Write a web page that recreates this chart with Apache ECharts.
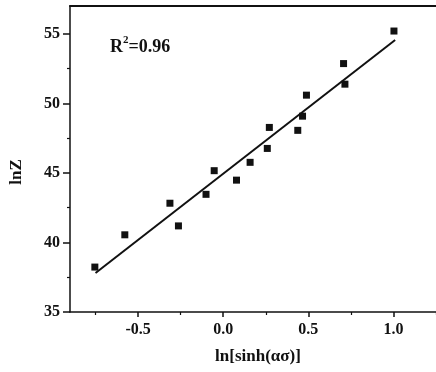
<!DOCTYPE html>
<html>
<head>
<meta charset="utf-8">
<script src="https://cdn.jsdelivr.net/npm/echarts@6/dist/echarts.min.js"></script>
<style>
  html, body { margin: 0; padding: 0; background: #fff; }
  #chart { width: 436px; height: 372px; }
</style>
</head>
<body>
<div id="chart"></div>
<script>
// Data
const lnSinh = [-0.754, -0.578, -0.313, -0.263, -0.101, -0.053, 0.078, 0.158, 0.259, 0.271, 0.438, 0.466, 0.489, 0.707, 0.715, 1.003];
const lnZ    = [38.23, 40.55, 42.82, 41.19, 43.46, 45.16, 44.48, 45.76, 46.76, 48.27, 48.06, 49.08, 50.59, 52.86, 51.38, 55.2];
// Linear fit line endpoints
const fitX = [-0.75, 1.01];
const fitY = [37.8, 54.55];
// Axis ticks
const xTicks = [-0.5, 0.0, 0.5, 1.0];
const xMinor = [-0.75, -0.25, 0.25, 0.75, 1.25];
const yTicks = [35, 40, 45, 50, 55];
const yMinor = [37.5, 42.5, 47.5, 52.5];
const rSquared = '0.96';

const font = '"Liberation Serif", "Times New Roman", serif';
const ink = '#111';

const chart = echarts.init(document.getElementById('chart'), null, { renderer: 'canvas' });

const xMin = -0.9, xMax = 1.25, yMin = 35, yMax = 57;

chart.setOption({
  backgroundColor: '#fff',
  animation: false,
  grid: { left: 68, right: 0, top: 6, bottom: 60, containLabel: false },
  xAxis: [
    {
      type: 'value', min: xMin, max: xMax, position: 'bottom',
      name: 'ln[sinh(ασ)]', nameLocation: 'middle', nameGap: 36,
      nameTextStyle: { fontFamily: font, fontWeight: 'bold', fontSize: 17, color: ink, padding: [0, 0, 0, 10] },
      axisLine: { show: true, onZero: false, lineStyle: { color: ink, width: 1.5 } },
      axisTick: { show: true, inside: false, length: 5, customValues: xTicks, lineStyle: { color: ink, width: 1.5 } },
      axisLabel: { show: true, margin: 10, customValues: xTicks, fontFamily: font, fontWeight: 'bold', fontSize: 16, color: ink,
                   formatter: v => v.toFixed(1) },
      splitLine: { show: false }
    },
    {
      type: 'value', min: xMin, max: xMax, position: 'bottom',
      axisLine: { show: false, onZero: false },
      axisTick: { show: true, inside: false, length: 3, customValues: xMinor, lineStyle: { color: ink, width: 1.2 } },
      axisLabel: { show: false },
      splitLine: { show: false }
    },
    {
      type: 'value', min: xMin, max: xMax, position: 'top',
      axisLine: { show: true, onZero: false, lineStyle: { color: ink, width: 2 } },
      axisTick: { show: false }, axisLabel: { show: false }, splitLine: { show: false }
    }
  ],
  yAxis: [
    {
      type: 'value', min: yMin, max: yMax, position: 'left',
      name: 'lnZ', nameLocation: 'middle', nameGap: 45, nameRotate: 90,
      nameTextStyle: { fontFamily: font, fontWeight: 'bold', fontSize: 17, color: ink, padding: [0, 26, 0, 0] },
      axisLine: { show: true, onZero: false, lineStyle: { color: ink, width: 1.5 } },
      axisTick: { show: true, inside: false, length: 7, customValues: yTicks, lineStyle: { color: ink, width: 1.5 } },
      axisLabel: { show: true, margin: 10, customValues: yTicks, fontFamily: font, fontWeight: 'bold', fontSize: 16, color: ink },
      splitLine: { show: false }
    },
    {
      type: 'value', min: yMin, max: yMax, position: 'left',
      axisLine: { show: false, onZero: false },
      axisTick: { show: true, inside: false, length: 3, customValues: yMinor, lineStyle: { color: ink, width: 1.2 } },
      axisLabel: { show: false },
      splitLine: { show: false }
    }
  ],
  graphic: [
    {
      type: 'text', left: 110, top: 35, z: 10,
      style: {
        text: '{r|R}{s|2}{r|=' + rSquared + '}',
        rich: {
          r: { fontFamily: font, fontWeight: 'bold', fontSize: 18, fill: ink, lineHeight: 21, verticalAlign: 'bottom' },
          s: { fontFamily: font, fontWeight: 'bold', fontSize: 11, fill: ink, lineHeight: 21, verticalAlign: 'top', padding: [0, 0, 8, 0] }
        }
      }
    }
  ],
  series: [
    {
      type: 'line', xAxisIndex: 0, yAxisIndex: 0,
      data: fitX.map((x, i) => [x, fitY[i]]),
      showSymbol: false, symbol: 'none',
      lineStyle: { color: ink, width: 2 },
      z: 2
    },
    {
      type: 'scatter', xAxisIndex: 0, yAxisIndex: 0,
      data: lnSinh.map((x, i) => [x, lnZ[i]]),
      symbol: 'rect', symbolSize: 7,
      itemStyle: { color: ink, opacity: 1 },
      z: 3
    }
  ]
});
</script>
</body>
</html>
